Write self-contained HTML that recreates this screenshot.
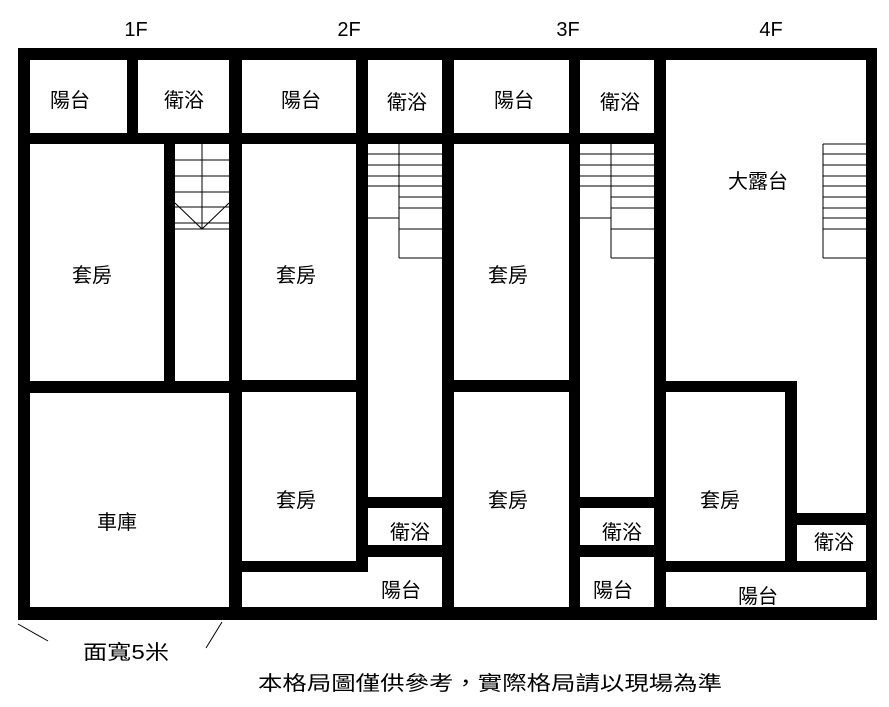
<!DOCTYPE html>
<html><head><meta charset="utf-8"><style>
html,body{margin:0;padding:0;background:#fff;}
svg{display:block;}
text{font-family:"Liberation Sans","Noto Sans CJK TC",sans-serif;fill:#000;}
</style></head><body>
<svg width="889" height="707" viewBox="0 0 889 707" xmlns="http://www.w3.org/2000/svg">
<rect x="0" y="0" width="889" height="707" fill="#fff"/>
<rect x="18" y="48" width="859" height="572" fill="#000"/>
<g fill="#fff">
<!-- row 1 -->
<rect x="30" y="60" width="97" height="73"/>
<rect x="138" y="60" width="91" height="73"/>
<rect x="242" y="60" width="114" height="73"/>
<rect x="368" y="60" width="74" height="73"/>
<rect x="454" y="60" width="115" height="73"/>
<rect x="580" y="60" width="74" height="73"/>
<!-- 1F -->
<rect x="30" y="144" width="134" height="237"/>
<rect x="175" y="144" width="54" height="237"/>
<rect x="30" y="393" width="199" height="214"/>
<!-- 2F -->
<rect x="242" y="144" width="114" height="236"/>
<rect x="368" y="144" width="74" height="353"/>
<rect x="242" y="392" width="114" height="169"/>
<rect x="368" y="508" width="74" height="37"/>
<rect x="242" y="572" width="200" height="35"/>
<rect x="368" y="557" width="74" height="50"/>
<!-- 3F -->
<rect x="454" y="144" width="115" height="236"/>
<rect x="580" y="144" width="74" height="353"/>
<rect x="454" y="392" width="115" height="215"/>
<rect x="580" y="508" width="74" height="37"/>
<rect x="580" y="557" width="74" height="50"/>
<!-- 4F -->
<rect x="666" y="60" width="200" height="321"/>
<rect x="654" y="133" width="12" height="11" fill="#000"/>
<rect x="797" y="60" width="69" height="453"/>
<rect x="666" y="392" width="119" height="169"/>
<rect x="797" y="525" width="69" height="36"/>
<rect x="666" y="572" width="200" height="35"/>
</g>
<g stroke="#000" stroke-width="1" fill="none">
<!-- 1F stair -->
<path d="M175 160H229M175 176H229M175 192H229M175 207H229M175 223H229M175 229H229M202 144V229M175 203L202 229L229 203"/>
<!-- 2F stair -->
<path d="M368 154H442M368 165H442M368 176H442M368 186H442M368 218H399M399 144V258M399 197H442M399 208H442M399 229H442M399 258H442"/>
<!-- 3F stair -->
<path d="M580 154H654M580 165H654M580 176H654M580 186H654M580 218H611M611 144V258M611 197H654M611 208H654M611 229H654M611 258H654"/>
<!-- 4F stair -->
<path d="M823 144H866M823 154H866M823 165H866M823 176H866M823 186H866M823 197H866M823 208H866M823 218H866M823 229H866M823 258H866M823 144V258"/>
<path d="M18 624L48 641M222 622L206 648"/>
</g>
<g font-size="20" text-anchor="middle">
<text x="136" y="36">1F</text>
<text x="349" y="36">2F</text>
<text x="568" y="36">3F</text>
<text x="771" y="36">4F</text>
<text x="70" y="107">陽台</text>
<text x="184" y="107">衛浴</text>
<text x="301" y="107">陽台</text>
<text x="407" y="109">衛浴</text>
<text x="514" y="107">陽台</text>
<text x="620" y="109">衛浴</text>
<text x="758" y="188">大露台</text>
<text x="92" y="282">套房</text>
<text x="296" y="282">套房</text>
<text x="508" y="282">套房</text>
<text x="117" y="529">車庫</text>
<text x="296" y="507">套房</text>
<text x="508" y="507">套房</text>
<text x="720" y="507">套房</text>
<text x="410" y="539">衛浴</text>
<text x="622" y="539">衛浴</text>
<text x="834" y="549">衛浴</text>
<text x="401" y="597">陽台</text>
<text x="613" y="597">陽台</text>
<text x="758" y="603">陽台</text>
<text x="126" y="659" textLength="86" lengthAdjust="spacingAndGlyphs">面寬5米</text>
<text x="490" y="690" textLength="464" lengthAdjust="spacingAndGlyphs">本格局圖僅供參考，實際格局請以現場為準</text>
</g>
</svg>
</body></html>
